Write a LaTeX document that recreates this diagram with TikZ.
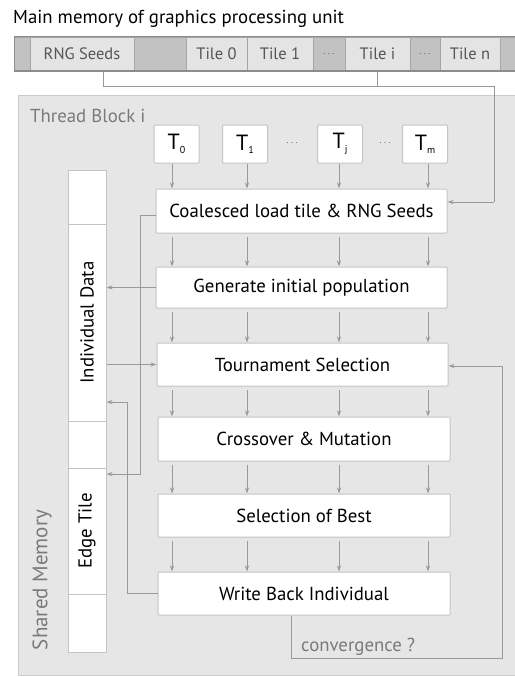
\documentclass[tikz,border=0pt]{standalone}
\usepackage{fontspec}
\setmainfont{PT Sans}
\usetikzlibrary{arrows.meta}
\definecolor{blockfill}{HTML}{E6E6E6}
\definecolor{blockline}{HTML}{CCCCCC}
\definecolor{boxline}{HTML}{C4C4C4}
\definecolor{arrcol}{HTML}{999999}
\definecolor{stripfill}{HTML}{C2C2C2}
\definecolor{stripline}{HTML}{8C8C8C}
\definecolor{cellfill}{HTML}{E4E4E4}
\definecolor{cellline}{HTML}{A6A6A6}
\definecolor{labelgray}{HTML}{7A7A7A}
\definecolor{celltext}{HTML}{555555}
\begin{document}
\begin{tikzpicture}[x=1pt,y=-1pt,
  txt/.style={font=\fontsize{18.8}{19}\selectfont},
  stxt/.style={font=\fontsize{16.5}{17}\selectfont},
  stepbox/.style={draw=boxline, fill=white, line width=1pt, minimum width=291pt,
    minimum height=43pt, inner sep=0pt, rounded corners=1pt, txt},
  tbox/.style={draw=boxline, fill=white, line width=1pt, minimum width=45pt,
    minimum height=38pt, inner sep=0pt, rounded corners=1pt, font=\fontsize{22}{22}\selectfont},
  memseg/.style={draw=boxline, fill=white, line width=1pt, minimum width=38pt, inner sep=0pt, txt},
  cell/.style={draw=cellline, fill=cellfill, line width=0.8pt, minimum height=34pt, inner sep=0pt,
    stxt, text=celltext},
  gapcell/.style={draw=cellline, fill=stripfill, line width=0.8pt, minimum height=34pt, inner sep=0pt,
    text=celltext},
  conn/.style={draw=arrcol, line width=1pt},
  arr/.style={conn, -{Stealth[length=6pt,width=4pt]}},
  graylabel/.style={txt, text=labelgray, inner sep=0pt}
]
\useasboundingbox (0,0) rectangle (514,677);
\fill[white] (0,0) rectangle (514,677);

% title
\node[txt, anchor=base west, inner sep=0pt] (title) at (13,24) {Main memory of graphics processing unit};

% memory strip
\node[gapcell, minimum width=16pt] (g0) at (22,54) {};
\node[cell, minimum width=104pt] (rng) at (82,54) {RNG Seeds};
\node[gapcell, minimum width=52pt] (g1) at (160,54) {};
\node[cell, minimum width=61pt] (tile0) at (216.5,54) {Tile 0};
\node[cell, minimum width=66pt] (tile1) at (280,54) {Tile 1};
\node[gapcell, minimum width=32pt] (d1) at (329,54) {$\cdots$};
\node[cell, minimum width=65pt] (tilei) at (377.5,54) {Tile i};
\node[gapcell, minimum width=30pt] (d2) at (425,54) {$\cdots$};
\node[cell, minimum width=60pt] (tilen) at (470,54) {Tile n};
\node[gapcell, minimum width=30pt] (g2) at (515,54) {};
\draw[stripline, line width=1pt, rounded corners=1pt] (14,37) -- (530,37) (14,71) -- (530,71) (14,37) -- (14,71);

% thread block
\draw[draw=blockline, fill=blockfill, line width=1pt] (18,95) rectangle (530,675);
\node[graylabel, anchor=base west] (tblabel) at (30,122) {Thread Block i};

% threads
\node[tbox] (T0) at (176.5,144) {T\raisebox{-0.3ex}{\fontsize{10}{10}\selectfont 0}};
\node[tbox] (T1) at (245,144) {T\raisebox{-0.3ex}{\fontsize{10}{10}\selectfont 1}};
\node[tbox] (Tj) at (340,144) {T\raisebox{-0.3ex}{\fontsize{10}{10}\selectfont j}};
\node[tbox] (Tm) at (425,144) {T\raisebox{-0.3ex}{\fontsize{10}{10}\selectfont m}};
\node[text=celltext] (dots1) at (292,143) {$\cdots$};
\node[text=celltext] (dots2) at (385,143) {$\cdots$};

% steps
\node[stepbox, minimum height=44pt] (coal) at (301.5,211) {Coalesced load tile \& RNG Seeds};
\node[stepbox, minimum height=41pt] (gen) at (301.5,287.5) {Generate initial population};
\node[stepbox] (tour) at (302.5,364.5) {Tournament Selection};
\node[stepbox, minimum width=292pt, minimum height=44pt] (cross) at (304,439) {Crossover \& Mutation};
\node[stepbox, minimum width=292pt] (best) at (304,515.5) {Selection of Best};
\node[stepbox, minimum width=292pt] (wb) at (304,593.5) {Write Back Individual};

% shared memory column
\node[memseg, minimum height=54pt] (m1) at (87,197) {};
\node[memseg, minimum height=197pt] (indiv) at (87,322.5) {\rotatebox{90}{Individual Data}};
\node[memseg, minimum height=47pt] (m3) at (87,444.5) {};
\node[memseg, minimum height=126pt] (edge) at (87,531) {\rotatebox{90}{Edge Tile}};
\node[memseg, minimum height=58pt] (m5) at (87,623) {};
\node[graylabel, rotate=90, font=\fontsize{21}{21}\selectfont] (shm) at (42,580) {Shared Memory};

% column coordinates
\coordinate (c1) at (172,0);
\coordinate (c2) at (247,0);
\coordinate (c3) at (339,0);
\coordinate (c4) at (428,0);

% thread arrows
\foreach \t/\c in {T0/c1, T1/c2, Tj/c3, Tm/c4}{
  \draw[arr] (\t.south -| \c) -- (coal.north -| \c);
}
\foreach \a/\b in {coal/gen, gen/tour, tour/cross, cross/best, best/wb}{
  \foreach \c in {c1,c2,c3,c4}{
    \draw[arr, shorten <=3pt] (\a.south -| \c) -- (\b.north -| \c);
  }
}

% main memory connectors
\coordinate (j1) at (103,86);
\coordinate (j2) at (494,86);
\coordinate (j3) at (494,202);
\draw[conn] (rng.south -| j1) -- (j1) -- (j2) -- (j3);
\draw[arr] (j3) -- (j3 -| coal.east);
\draw[conn] (tilei.south) -- (tilei.south |- j1);

% left connectors
\coordinate (l1) at (140,215);
\coordinate (l2) at (140,474);
\draw[arr] (l1 -| coal.west) -- (l1) -- (l2) -- (l2 -| edge.east);
\draw[arr] (gen.west) -- (gen.west -| indiv.east);
\draw[arr] (tour.west -| indiv.east) -- (tour.west);
\coordinate (w1) at (127,593.5);
\coordinate (w2) at (127,402);
\draw[arr] (wb.west) -- (w1) -- (w2) -- (w2 -| indiv.east);

% convergence loop
\coordinate (r1) at (291,658);
\coordinate (r2) at (502,658);
\coordinate (r3) at (502,366);
\draw[arr] (wb.south -| r1) -- (r1) -- (r2) -- (r3) -- (r3 -| tour.east);
\node[graylabel, anchor=base west] (conv) at (301,651) {convergence ?};
\end{tikzpicture}
\end{document}
